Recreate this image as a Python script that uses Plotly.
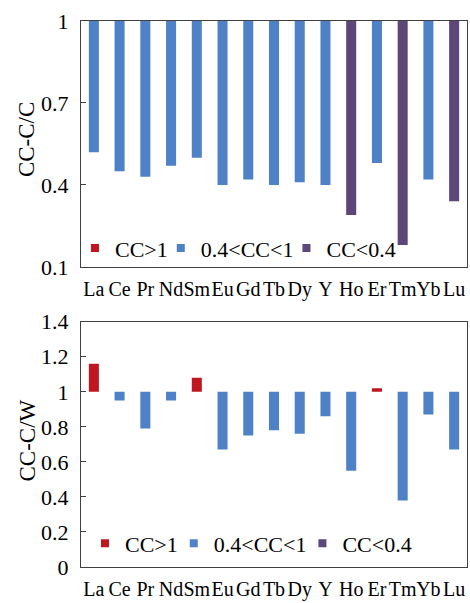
import plotly.graph_objects as go

elements = ["La", "Ce", "Pr", "Nd", "Sm", "Eu", "Gd", "Tb", "Dy", "Y", "Ho", "Er", "Tm", "Yb", "Lu"]
cc_c = [0.52, 0.45, 0.43, 0.47, 0.50, 0.40, 0.42, 0.40, 0.41, 0.40, 0.29, 0.48, 0.18, 0.42, 0.34]
cc_c_group = ["mid", "mid", "mid", "mid", "mid", "mid", "mid", "mid", "mid", "mid", "low", "mid", "low", "mid", "low"]
cc_w = [1.16, 0.95, 0.79, 0.95, 1.08, 0.67, 0.75, 0.78, 0.76, 0.86, 0.55, 1.02, 0.38, 0.87, 0.67]
cc_w_group = ["high", "mid", "mid", "mid", "high", "mid", "mid", "mid", "mid", "mid", "mid", "high", "mid", "mid", "mid"]
groups = ["high", "mid", "low"]
group_names = {"high": "CC>1", "mid": "0.4<CC<1", "low": "CC<0.4"}
group_colors = {"high": "#C0161F", "mid": "#4F81C6", "low": "#5D4679"}
top_ticks = [0.1, 0.4, 0.7, 1]
bottom_ticks = [0, 0.2, 0.4, 0.6, 0.8, 1, 1.2, 1.4]
top_title = "CC-C/C"
bottom_title = "CC-C/W"

FONT = "Liberation Serif"
LINE = "#404040"
W, H = 470, 603
mt, mb, ml, mr = 21, 27, 81, 2
plot_w = W - ml - mr
plot_h = H - mt - mb
top_dom = [(H - mb - 271) / plot_h, 1.0]
bot_dom = [0.0, (H - mb - 326.7) / plot_h]

# legend symbol centre (px) per entry for each panel
top_leg_px = {"high": 94, "mid": 180, "low": 306}
bot_leg_px = {"high": 104, "mid": 193, "low": 322}
top_leg_ids = {"high": "legend", "mid": "legend3", "low": "legend4"}
bot_leg_ids = {"high": "legend2", "mid": "legend5", "low": "legend6"}

fig = go.Figure()

def add_bars(vals, grp, xa, ya, leg_ids):
    for g in groups:
        xs = [e for e, gg in zip(elements, grp) if gg == g]
        ys = [v - 1 for v, gg in zip(vals, grp) if gg == g]
        if xs:
            fig.add_trace(go.Bar(x=xs, y=ys, base=1, width=0.39, marker_color=group_colors[g],
                                 marker_line_width=0, showlegend=False, xaxis=xa, yaxis=ya,
                                 hoverinfo="skip"))
    for g in groups:
        fig.add_trace(go.Scatter(x=[None], y=[None], mode="markers", name=group_names[g],
                                 marker=dict(symbol="square", size=8, color=group_colors[g]),
                                 xaxis=xa, yaxis=ya, legend=leg_ids[g], showlegend=True))

add_bars(cc_c, cc_c_group, "x", "y", top_leg_ids)
add_bars(cc_w, cc_w_group, "x2", "y2", bot_leg_ids)

n = len(elements)
xrange = [-0.5, n - 0.5]
boundary_vals = [i + 0.5 for i in range(n - 1)]

xcommon = dict(type="category", categoryorder="array", categoryarray=elements, range=xrange,
               showline=True, linecolor=LINE, linewidth=1.2, ticks="", showgrid=False, zeroline=False,
               tickangle=0, ticklabelstandoff=4, tickfont=dict(family=FONT, size=20, color="black"))
ycommon = dict(showline=True, linecolor=LINE, linewidth=1.2, mirror=True, ticks="inside", ticklen=5,
               tickcolor=LINE, showgrid=False, zeroline=False, ticklabelstandoff=7,
               tickfont=dict(family=FONT, size=22, color="black"))

pos_one = bot_dom[0] + (1 - bottom_ticks[0]) / (bottom_ticks[-1] - bottom_ticks[0]) * (bot_dom[1] - bot_dom[0])

legends = {}
for g in groups:
    legends[top_leg_ids[g]] = dict(orientation="h", x=(top_leg_px[g] - 19 - ml) / plot_w, xanchor="left",
                                   y=(H - mb - 252) / plot_h, yanchor="middle",
                                   font=dict(family=FONT, size=22, color="black"),
                                   bgcolor="rgba(0,0,0,0)")
    legends[bot_leg_ids[g]] = dict(orientation="h", x=(bot_leg_px[g] - 19 - ml) / plot_w, xanchor="left",
                                   y=(H - mb - 552) / plot_h, yanchor="middle",
                                   font=dict(family=FONT, size=22, color="black"),
                                   bgcolor="rgba(0,0,0,0)")

title_x = (27 - ml) / plot_w
annotations = [
    dict(text=top_title, xref="paper", yref="paper", x=title_x, y=sum(top_dom) / 2, yshift=4,
         textangle=-90, showarrow=False, xanchor="center", yanchor="middle",
         font=dict(family=FONT, size=23, color="black")),
    dict(text=bottom_title, xref="paper", yref="paper", x=title_x, y=sum(bot_dom) / 2, yshift=4,
         textangle=-90, showarrow=False, xanchor="center", yanchor="middle",
         font=dict(family=FONT, size=23, color="black")),
]

fig.update_layout(
    width=W, height=H,
    margin=dict(l=ml, r=mr, t=mt, b=mb),
    paper_bgcolor="white", plot_bgcolor="white",
    barmode="overlay",
    font=dict(family=FONT, color="black"),
    xaxis=dict(**xcommon, domain=[0, 1], anchor="y", mirror=True),
    yaxis=dict(**ycommon, domain=top_dom, anchor="x", range=[0.1, 1], tickvals=top_ticks),
    xaxis2=dict(**xcommon, domain=[0, 1], anchor="y2", mirror=True),
    yaxis2=dict(**ycommon, domain=bot_dom, anchor="x2", range=[0, 1.4], tickvals=bottom_ticks),
    xaxis3=dict(overlaying="x", anchor="y", side="top", range=xrange, tickvals=boundary_vals,
                ticks="inside", ticklen=5, tickcolor=LINE, tickwidth=1.2, showticklabels=False,
                showgrid=False, zeroline=False, showline=False),
    xaxis4=dict(overlaying="x2", anchor="free", position=pos_one, side="bottom", range=xrange,
                tickvals=boundary_vals, ticks="outside", ticklen=5, tickcolor=LINE, tickwidth=1.2,
                showticklabels=False, showgrid=False, zeroline=False, showline=True,
                linecolor=LINE, linewidth=1.2),
    annotations=annotations,
    **legends,
)

fig.write_html("out.html", config={"displayModeBar": False},
               post_script="document.body.style.margin='0';document.body.style.overflow='hidden';")
